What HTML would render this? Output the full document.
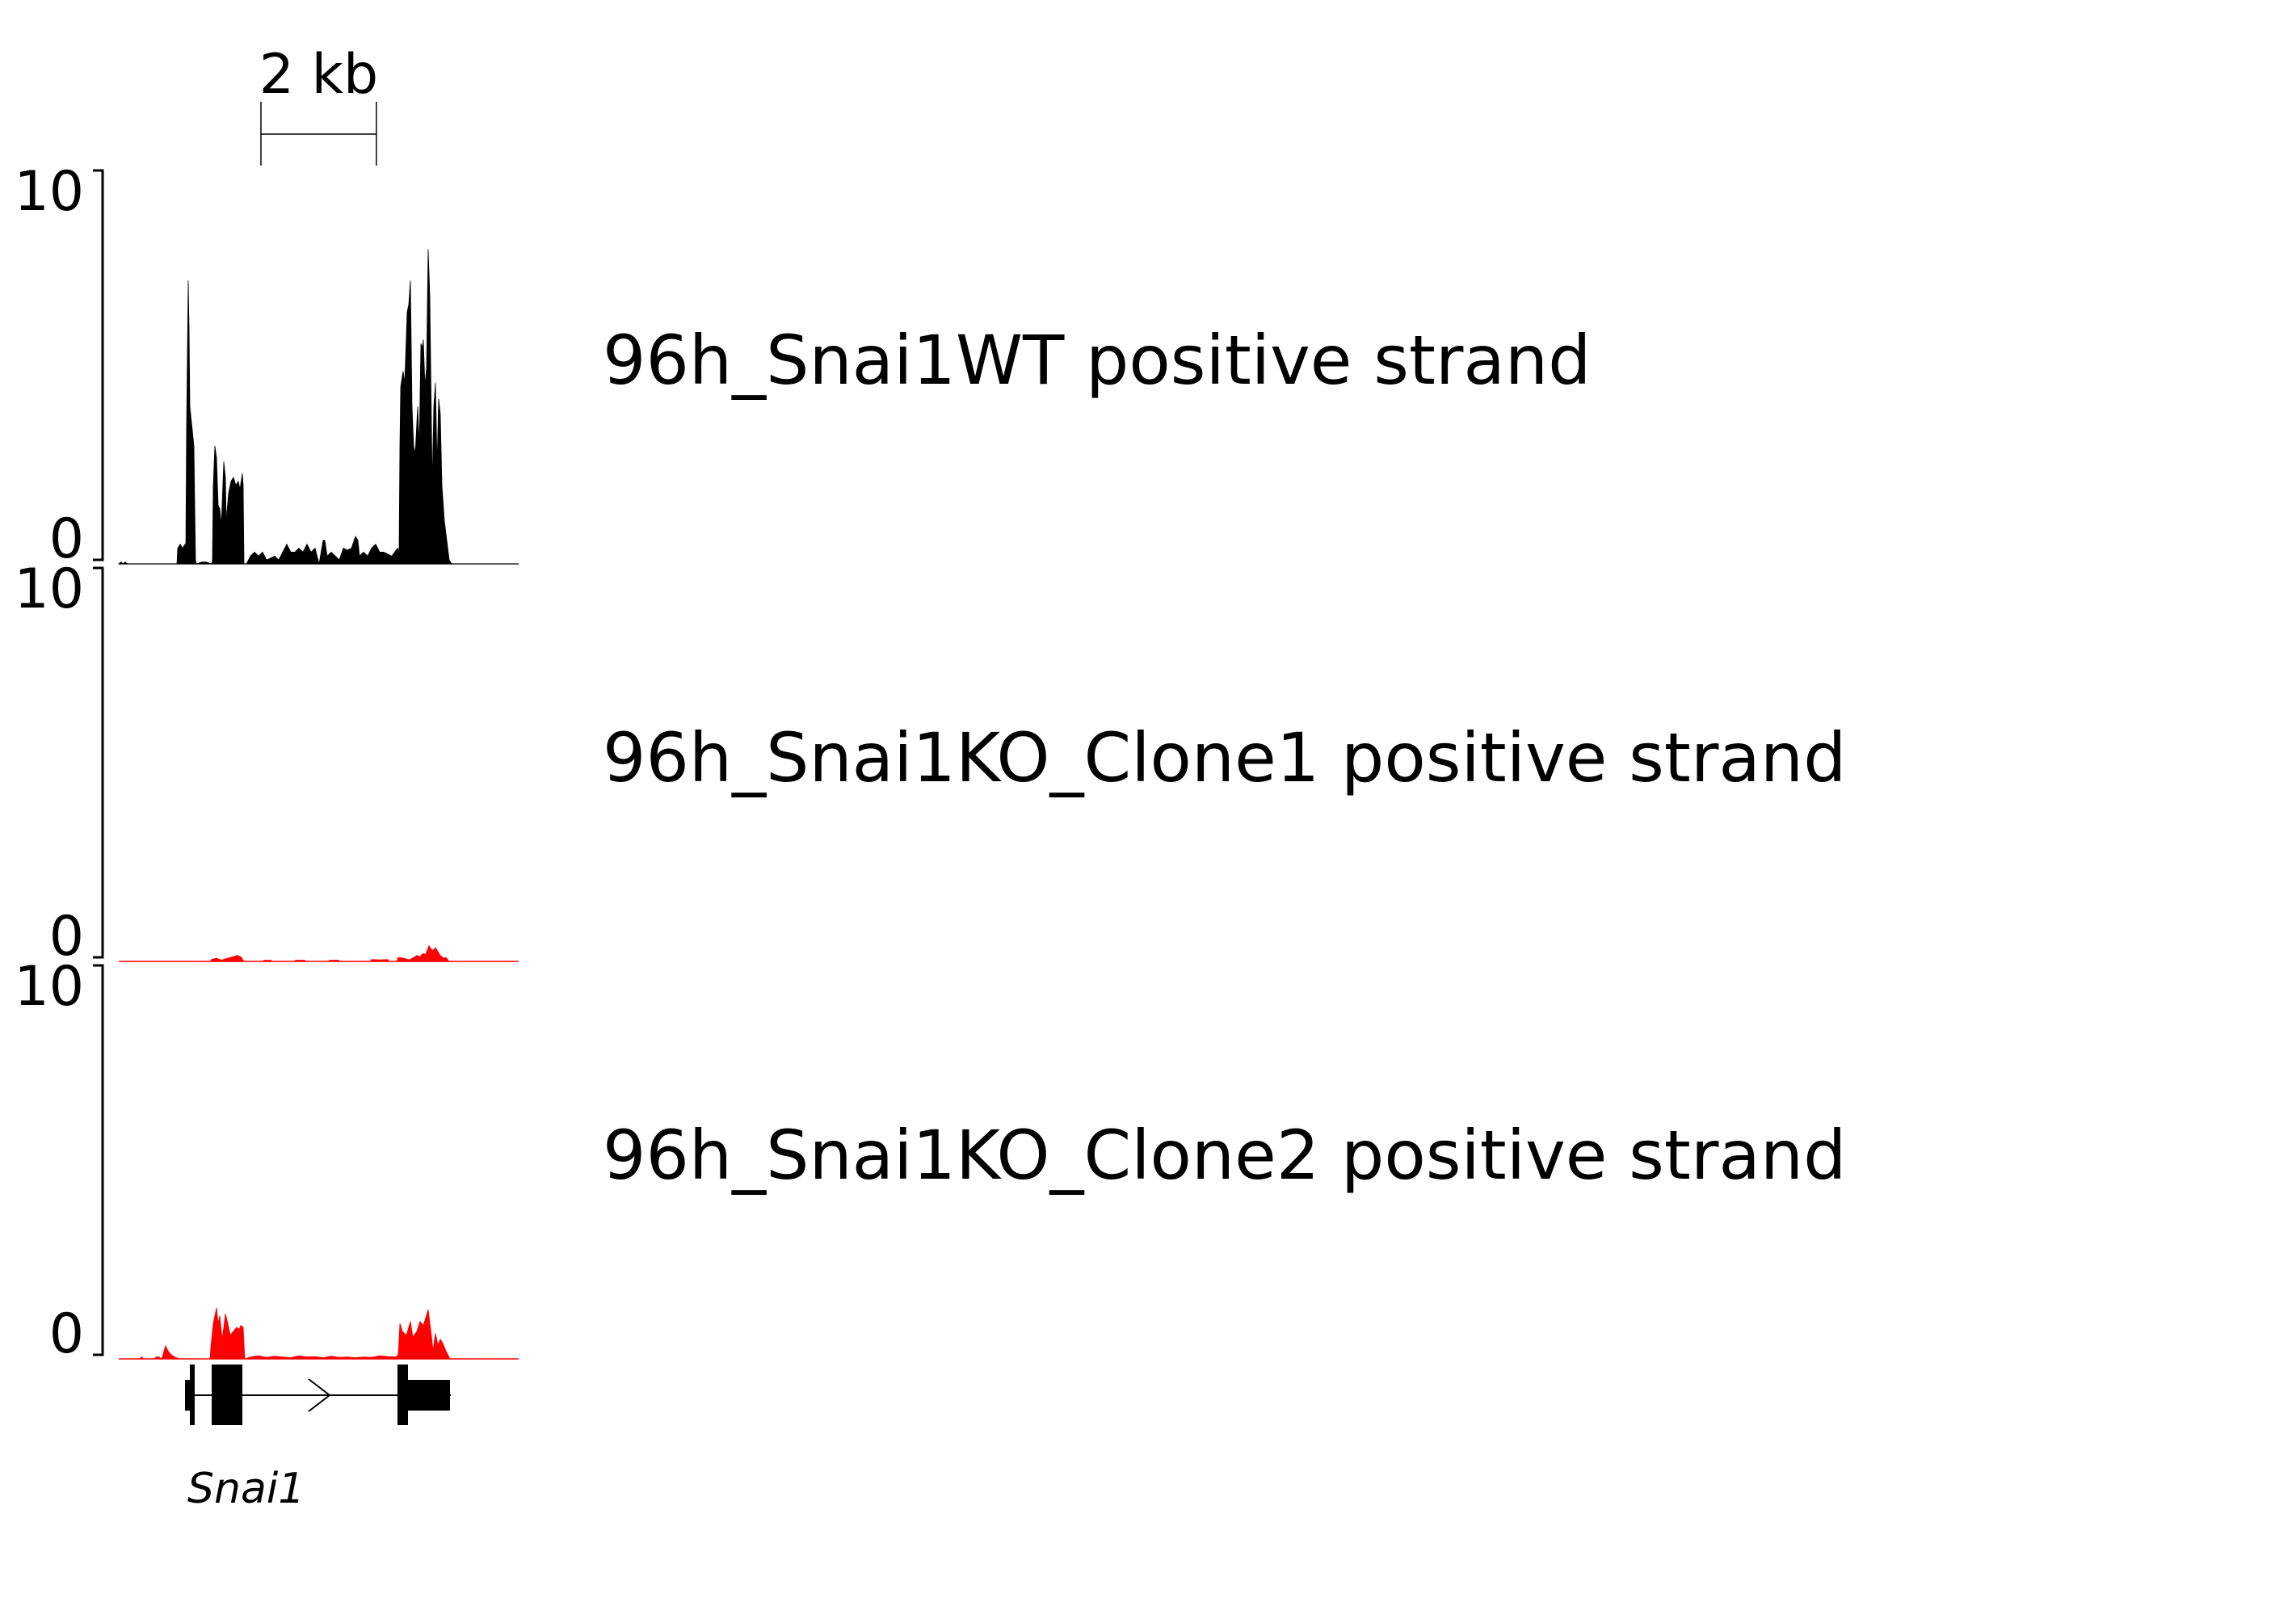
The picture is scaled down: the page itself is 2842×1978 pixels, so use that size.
<!DOCTYPE html>
<html><head><meta charset="utf-8"><style>
html,body{margin:0;padding:0;background:#fff;}
svg{display:block;font-family:"DejaVu Sans","Liberation Sans",sans-serif;}
</style></head><body>
<svg id="chart" width="2842" height="1978" viewBox="0 0 2842 1978" xmlns="http://www.w3.org/2000/svg">
<g id="scale"></g>
<g id="tracks"></g>
<g id="gene"></g>
</svg>
<script>
// ---- data (positions in bp from region start, values = coverage) ----
const trackLabels = ["96h_Snai1WT positive strand","96h_Snai1KO_Clone1 positive strand","96h_Snai1KO_Clone2 positive strand"];
const trackColors = ["#000000","#ff0000","#ff0000"];
const yMax = 10;
const t1Pos = [0,42,70,112,154,1008,1022,1064,1106,1148,1162,1176,1204,1218,1232,1260,1302,1330,1344,1442,1512,1610,1624,1638,1666,1694,1722,1750,1778,1820,1848,1862,1904,1946,1988,2030,2072,2100,2142,2156,2170,2212,2282,2352,2422,2492,2562,2702,2772,2912,2982,3052,3122,3192,3262,3332,3402,3472,3542,3570,3612,3682,3752,3822,3892,3962,4032,4102,4144,4172,4242,4312,4382,4452,4522,4592,4662,4732,4830,4858,4872,4886,4928,4956,4998,5026,5054,5082,5110,5138,5180,5208,5236,5264,5278,5306,5334,5362,5390,5432,5460,5488,5516,5544,5572,5600,5642,5684,5726,5768,6930];
const t1Val = [0,0.05,0,0.05,0,0,0.4,0.5,0.4,0.5,0.3,3.5,7.2,6.0,4.0,3.6,3.0,0.1,0,0.05,0.05,0,0.1,2.0,3.0,2.7,1.5,1.4,1.0,2.6,2.2,1.1,1.8,2.1,2.2,2.0,2.1,1.9,2.3,2.0,0,0,0.2,0.3,0.2,0.3,0.1,0.2,0.1,0.5,0.3,0.3,0.4,0.3,0.5,0.3,0.4,0,0.6,0.6,0.2,0.3,0.2,0.1,0.4,0.35,0.4,0.7,0.6,0.2,0.3,0.2,0.4,0.5,0.3,0.3,0.25,0.2,0.4,0.3,3.0,4.5,4.9,4.6,6.4,6.6,7.2,4.0,3.0,2.8,4.0,3.0,5.6,5.5,5.7,4.5,5.0,8.0,6.8,2.0,4.0,4.6,2.5,4.2,3.8,2.0,1.1,0.6,0.1,0,0];
const t2Pos = [0,1582,1610,1694,1778,1834,1932,2058,2128,2156,2184,2492,2520,2632,2660,3038,3066,3220,3248,3626,3654,3808,3836,4354,4382,4522,4662,4690,4816,4844,4942,5040,5110,5166,5222,5264,5320,5376,5418,5446,5488,5530,5572,5628,5670,5726,6930];
const t2Val = [0,0,0.05,0.08,0.03,0.06,0.1,0.15,0.1,0.02,0,0,0.03,0.03,0,0,0.03,0.03,0,0,0.03,0.03,0,0,0.05,0.04,0.05,0,0,0.1,0.08,0.04,0.1,0.15,0.12,0.2,0.18,0.4,0.3,0.28,0.35,0.25,0.15,0.08,0.1,0,0];
const t3Pos = [0,364,392,434,616,644,700,728,756,784,812,854,910,966,1050,1582,1596,1638,1694,1722,1750,1792,1820,1848,1890,1932,1988,2044,2086,2114,2156,2184,2282,2422,2562,2702,2842,2982,3122,3262,3402,3542,3682,3822,3962,4102,4242,4382,4522,4662,4802,4844,4872,4914,4984,5054,5096,5166,5222,5278,5362,5418,5446,5488,5530,5572,5614,5670,5740,6930];
const t3Val = [0,0,0.05,0,0,0.05,0.05,0,0.05,0.2,0.33,0.2,0.1,0.05,0,0,0.3,0.9,1.3,0.9,1.1,0.5,0.8,1.15,0.9,0.6,0.7,0.8,0.75,0.85,0.8,0,0.05,0.08,0.04,0.07,0.05,0.03,0.08,0.05,0.06,0.03,0.07,0.04,0.05,0.03,0.05,0.04,0.08,0.06,0.05,0.1,0.9,0.7,0.6,0.95,0.55,0.7,0.95,0.85,1.25,0.6,0.2,0.65,0.35,0.5,0.4,0.2,0,0];
const geneThinStart = [1148,5012];
const geneThinEnd = [1232,5740];
const geneExonStart = [1232,1610,4830];
const geneExonEnd = [1316,2142,5012];
const geneStart = 1148, geneEnd = 5754;
const scaleStart = 2464, scaleLen = 2000;

// ---- scales ----
const X0 = 147, PXPERBP = 1/14;
function xs(bp){ return X0 + bp*PXPERBP; }
const baselines = [698,1190,1682];
const trackH = 487;
function ys(t,v){ return baselines[t] - v*trackH/yMax; }

const NS="http://www.w3.org/2000/svg";
function mk(tag, attrs, parent){ const e=document.createElementNS(NS,tag); for(const k in attrs) e.setAttribute(k,attrs[k]); parent.appendChild(e); return e; }

// scale bar
const sg=document.getElementById('scale');
const sx1=xs(scaleStart), sx2=xs(scaleStart+scaleLen);
let e;
e=mk('line',{x1:sx1,y1:126,x2:sx1,y2:205,stroke:'#000','stroke-width':1.5},sg);


e=mk('line',{x1:sx2,y1:126,x2:sx2,y2:205,stroke:'#000','stroke-width':1.5},sg);


e=mk('line',{x1:sx1,y1:166,x2:sx2,y2:166,stroke:'#000','stroke-width':1.5},sg);


e=mk('text',{x:(sx1+sx2)/2,y:115,'font-size':68,'text-anchor':'middle'},sg);
e.textContent='2 kb';



// tracks
const tg=document.getElementById('tracks');
const allPos=[t1Pos,t2Pos,t3Pos], allVal=[t1Val,t2Val,t3Val];
for(let t=0;t<3;t++){
  const g=mk('g',{},tg);
  
  
  const b=baselines[t], top=b-trackH;
  e=mk('path',{d:`M115 ${top} H127 V${b-5} H115`,fill:'none',stroke:'#000','stroke-width':3},g);
  
  
  e=mk('text',{x:104,y:top+49,'font-size':68,'text-anchor':'end'},g);
  e.textContent='10';
  
  
  e=mk('text',{x:104,y:b-8,'font-size':68,'text-anchor':'end'},g);
  e.textContent='0';
  
  
  e=mk('line',{x1:xs(0),y1:b,x2:xs(6930),y2:b,stroke:t===0?'#555':'#ff0000','stroke-width':1.5},g);
  
  
  const P=allPos[t], V=allVal[t];
  let d=`M${xs(P[0])} ${b}`;
  for(let i=0;i<P.length;i++) d+=` L${xs(P[i]).toFixed(1)} ${ys(t,V[i]).toFixed(1)}`;
  d+=` L${xs(P[P.length-1])} ${b} Z`;
  e=mk('path',{d:d,fill:trackColors[t],stroke:trackColors[t],'stroke-width':0.8},g);
  
  
  e=mk('text',{x:746,y:475+t*492,'font-size':84},g);
  e.textContent=trackLabels[t];
  
  
}

// gene model
const gg=document.getElementById('gene');
const gy=1727;
e=mk('line',{x1:xs(geneStart),y1:gy,x2:xs(geneEnd),y2:gy,stroke:'#000','stroke-width':2},gg);


for(let i=0;i<geneThinStart.length;i++){
  e=mk('rect',{x:xs(geneThinStart[i]),y:1708,width:xs(geneThinEnd[i])-xs(geneThinStart[i]),height:38,fill:'#000'},gg);
  
  
}
for(let i=0;i<geneExonStart.length;i++){
  e=mk('rect',{x:xs(geneExonStart[i]),y:1689,width:xs(geneExonEnd[i])-xs(geneExonStart[i]),height:75,fill:'#000'},gg);
  
  
}
e=mk('path',{d:`M382 ${gy-20} L408 ${gy} L382 ${gy+20}`,fill:'none',stroke:'#000','stroke-width':2},gg);


e=mk('text',{x:232,y:1860,'font-size':52,'font-style':'italic'},gg);
e.textContent='Snai1';


</script>
</body></html>
